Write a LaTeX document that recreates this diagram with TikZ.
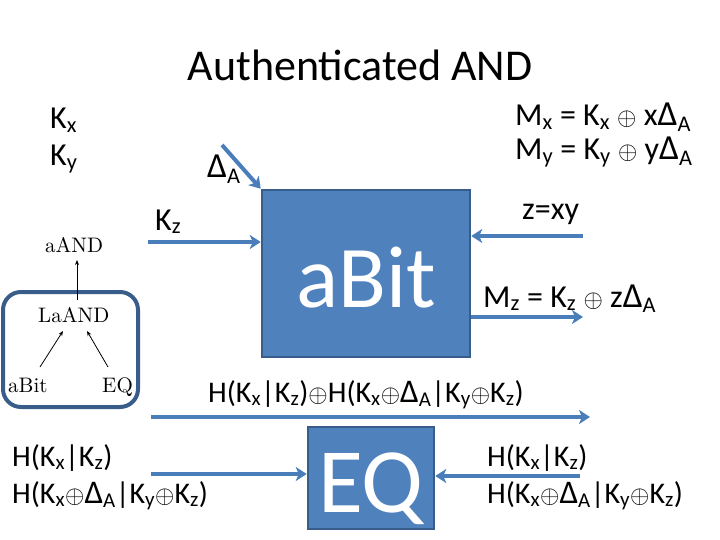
\documentclass[tikz,border=0pt]{standalone}
\usepackage{fontspec}
\setmainfont{Carlito}
\newfontfamily\cmfont[Extension=.otf]{lmroman10-regular}
\usetikzlibrary{arrows.meta}
\definecolor{boxfill}{HTML}{4F81BD}
\definecolor{boxline}{HTML}{385D8A}
\definecolor{arrc}{HTML}{4A7EBB}
\newcommand{\dA}{\scalebox{1.1}{Δ}\textsubscript{A}}
\newcommand{\op}{\ensuremath{\oplus}}
\tikzset{
  lbl/.style={anchor=base west, inner sep=0pt, font=\fontsize{32}{36}\selectfont},
  hlbl/.style={anchor=base west, inner sep=0pt, font=\fontsize{30}{34}\selectfont},
  bluebox/.style={draw=boxline, fill=boxfill, line width=2.5pt, text=white, inner sep=0pt},
  barrow/.style={draw=arrc, line width=4pt, -{Stealth[length=11pt,width=14pt,inset=3pt]}},
  cmlbl/.style={anchor=base west, inner sep=0pt, font=\cmfont\fontsize{21}{24}\selectfont},
  thinarrow/.style={draw=black, line width=0.8pt, -{Stealth[length=5pt,width=4pt]}}
}
\begin{document}
\begin{tikzpicture}[x=1pt,y=-1pt]
\useasboundingbox (0,0) rectangle (720,540);
% title
\node[anchor=base, inner sep=0pt, font=\fontsize{44}{50}\selectfont] (title) at (360,81) {Authenticated AND};
% top-left labels
\node[lbl] (kx) at (50,129) {K\textsubscript{x}};
\node[lbl] (ky) at (50,166) {K\textsubscript{y}};
\node[lbl] (da) at (207,178) {\dA};
\node[lbl] (kz) at (155,230) {K\textsubscript{z}};
% right labels
\node[lbl] (mx) at (515,126) {M\textsubscript{x} = K\textsubscript{x} \op{} x\dA};
\node[lbl] (my) at (515,160) {M\textsubscript{y} = K\textsubscript{y} \op{} y\dA};
\node[lbl] (zxy) at (522,220) {z=xy};
\node[lbl] (mz) at (483,307) {M\textsubscript{z} = K\textsubscript{z} \op{} z\dA};
% aBit box
\node[bluebox, minimum width=208pt, minimum height=167pt, text height=67pt, text depth=0pt, font=\fontsize{88}{90}\selectfont] (abit) at (366,273.5) {aBit};
% arrows around aBit
\coordinate (dstart) at (222,145);
\draw[barrow] (dstart) -- (abit.north west);
\coordinate (kzs) at (148,242);
\draw[barrow] (kzs) -- (kzs -| abit.west);
\coordinate (zs) at (583,236);
\draw[barrow] (zs) -- (zs -| abit.east);
\coordinate (mze) at (583,317);
\draw[barrow] (mze -| abit.east) -- (mze);
% inset
\draw[draw=boxline, line width=4pt, rounded corners=18pt] (3,292) rectangle (138,407);
\node[cmlbl] (aand) at (45,252) {aAND};
\node[cmlbl] (laand) at (38,322) {LaAND};
\node[cmlbl] (ibit) at (8,392) {aBit};
\node[cmlbl] (ieq) at (102,392) {EQ};
\coordinate (l1) at (77,300); \coordinate (l1e) at (77,260);
\draw[thinarrow] (l1) -- (l1e);
\coordinate (l2) at (40,367); \coordinate (l2e) at (63,331);
\draw[thinarrow] (l2) -- (l2e);
\coordinate (l3) at (108,367); \coordinate (l3e) at (87,331);
\draw[thinarrow] (l3) -- (l3e);
% bottom
\node[hlbl] (htop) at (208,402) {H(K\textsubscript{x}|K\textsubscript{z})\op{}H(K\textsubscript{x}\op\dA|K\textsubscript{y}\op{}K\textsubscript{z})};
\coordinate (ls) at (151,417); \coordinate (le) at (590,417);
\draw[barrow] (ls) -- (le);
\node[bluebox, minimum width=126pt, minimum height=102pt, text height=68pt, text depth=0pt, font=\fontsize{92}{94}\selectfont] (eq) at (371,478) {EQ};
\node[hlbl] (hl1) at (12,466) {H(K\textsubscript{x}|K\textsubscript{z})};
\node[hlbl] (hl2) at (12,503) {H(K\textsubscript{x}\op\dA|K\textsubscript{y}\op{}K\textsubscript{z})};
\node[hlbl] (hr1) at (487,466) {H(K\textsubscript{x}|K\textsubscript{z})};
\node[hlbl] (hr2) at (487,503) {H(K\textsubscript{x}\op\dA|K\textsubscript{y}\op{}K\textsubscript{z})};
\coordinate (els) at (151,474);
\draw[barrow] (els) -- (els -| eq.west);
\coordinate (ers) at (580,476);
\draw[barrow] (ers) -- (ers -| eq.east);
\end{tikzpicture}
\end{document}
